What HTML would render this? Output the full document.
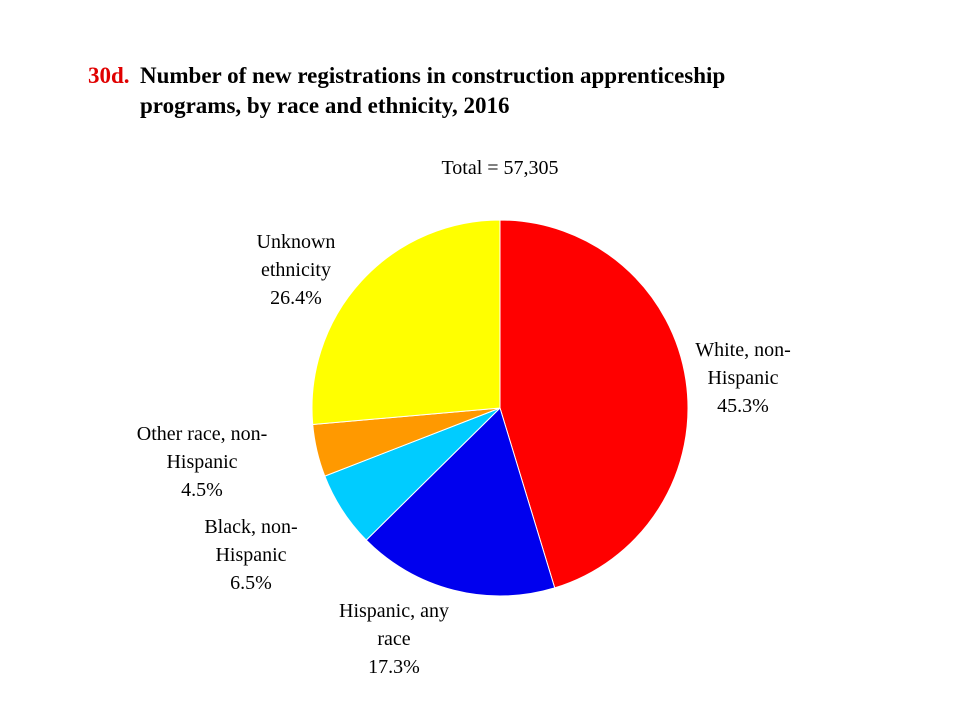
<!DOCTYPE html>
<html><head><meta charset="utf-8"><style>
body{margin:0;background:#fff;}
svg{display:block;font-family:"Liberation Serif",serif;}
</style></head><body>
<svg width="960" height="720" viewBox="0 0 960 720">
<text x="88" y="83" font-size="23" font-weight="bold" fill="#e00000">30d.</text>
<text x="140" y="83" font-size="23" font-weight="bold" fill="#000">Number of new registrations in construction apprenticeship</text>
<text x="140" y="113" font-size="23" font-weight="bold" fill="#000">programs, by race and ethnicity, 2016</text>
<text x="500" y="174" font-size="20" text-anchor="middle">Total = 57,305</text>
<g id="slices"></g>
<g id="labels" font-size="20" text-anchor="middle"></g>
</svg>
<script>
const categories=["White, non-Hispanic","Hispanic, any race","Black, non-Hispanic","Other race, non-Hispanic","Unknown ethnicity"];
const values=[45.3,17.3,6.5,4.5,26.4];
const labelLines=[["White, non-","Hispanic","45.3%"],["Hispanic, any","race","17.3%"],["Black, non-","Hispanic","6.5%"],["Other race, non-","Hispanic","4.5%"],["Unknown","ethnicity","26.4%"]];
const colors=["#ff0000","#0000ee","#00ccff","#ff9900","#ffff00"];
const labelPos=[[743,356],[394,617],[251,533],[202,440],[296,248]];
const cx=500,cy=408,r=188;
const ns="http://www.w3.org/2000/svg";
const total=values.reduce((a,b)=>a+b,0);
const gs=document.getElementById('slices'),gl=document.getElementById('labels');
let a0=-Math.PI/2;
values.forEach((v,i)=>{
  const a1=a0+v/total*2*Math.PI;
  const x0=cx+r*Math.cos(a0),y0=cy+r*Math.sin(a0),x1=cx+r*Math.cos(a1),y1=cy+r*Math.sin(a1);
  const p=document.createElementNS(ns,'path');
  p.setAttribute('d',`M${cx},${cy}L${x0},${y0}A${r},${r} 0 ${a1-a0>Math.PI?1:0} 1 ${x1},${y1}Z`);
  p.setAttribute('fill',colors[i]);
  p.setAttribute('stroke','#fff');p.setAttribute('stroke-width','1');
  
  
  gs.appendChild(p);
  const t=document.createElementNS(ns,'text');
  t.setAttribute('x',labelPos[i][0]);t.setAttribute('y',labelPos[i][1]);
  
  
  labelLines[i].forEach((ln,k)=>{const s=document.createElementNS(ns,'tspan');s.setAttribute('x',labelPos[i][0]);s.setAttribute('dy',k?28:0);s.textContent=ln;t.appendChild(s);});
  gl.appendChild(t);
  a0=a1;
});
</script>
</body></html>
